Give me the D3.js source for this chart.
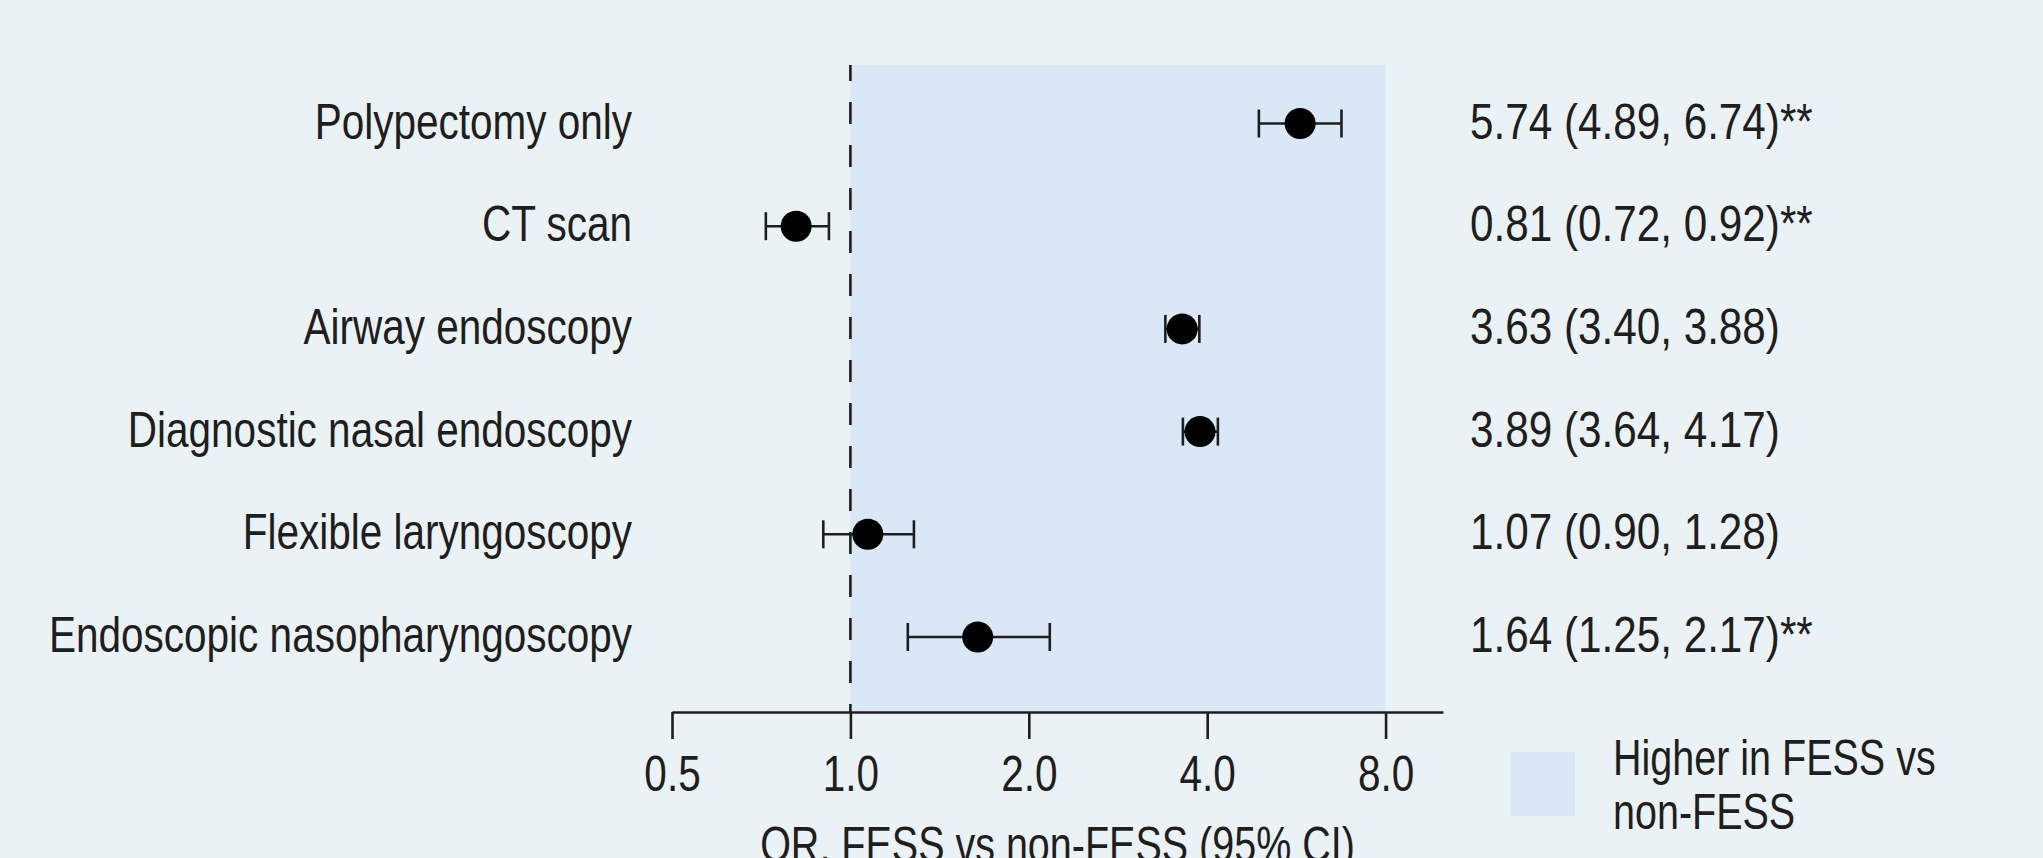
<!DOCTYPE html>
<html>
<head>
<meta charset="utf-8">
<script src="https://cdn.jsdelivr.net/npm/d3@7"></script>
<style>
  html, body { margin: 0; padding: 0; background: #eaf2f5; }
  svg { display: block; }
  text { font-family: "Liberation Sans", Arial, sans-serif; fill: #1e1e1e; }
</style>
</head>
<body>
<div id="chart"></div>
<script>
// forest plot data
var categories = ["Polypectomy only", "CT scan", "Airway endoscopy",
    "Diagnostic nasal endoscopy", "Flexible laryngoscopy", "Endoscopic nasopharyngoscopy"];
var orValues = [5.74, 0.81, 3.63, 3.89, 1.07, 1.64];
var ciLower = [4.89, 0.72, 3.40, 3.64, 0.90, 1.25];
var ciUpper = [6.74, 0.92, 3.88, 4.17, 1.28, 2.17];
var signif = ["**", "**", "", "", "", "**"];
var tickVals = [0.5, 1, 2, 4, 8];
var axisTitle = "OR, FESS vs non-FESS (95% CI)";
var legendLines = ["Higher in FESS vs", "non-FESS"];

const width = 2043, height = 858;
const fontSize = 50;
const narrow = 0.81;      // no condensed font installed, squeeze the glyphs instead
const plotTop = 65, axisY = 712;
const rowTop = 123.5, rowBottom = 637;
const ink = '#1e1e1e';

var data = categories.map(function(c, i) {
    return { name: c, or: orValues[i], lo: ciLower[i], hi: ciUpper[i], sig: signif[i] };
});

function squeeze(tx, ty, s) {
    return 'translate(' + tx + ',' + ty + ') scale(' + (s || narrow) + ',1)';
}

var chart = d3.select('#chart')
    .append('svg')
    .attr('width', width)
    .attr('height', height);

chart.append('rect')
    .attr('width', width).attr('height', height)
    .attr('fill', '#eaf2f5');

var x = d3.scaleLog().base(2)
    .domain([0.5, 10])
    .range([672, 1443]);
var y = d3.scalePoint()
    .domain(categories)
    .range([rowTop, rowBottom]);

// shaded region (OR between 1 and 8)
chart.append('rect')
    .attr('x', x(1))
    .attr('y', plotTop)
    .attr('width', x(8) - x(1))
    .attr('height', axisY - plotTop)
    .attr('fill', '#d9e7f6');

// reference line at OR = 1
chart.append('line')
    .attr('x1', x(1)).attr('x2', x(1))
    .attr('y1', plotTop).attr('y2', axisY)
    .attr('stroke', ink)
    .attr('stroke-width', 2.6)
    .attr('stroke-dasharray', '22,21')
    .attr('stroke-dashoffset', 6);

// x axis
var axis = chart.append('g')
    .attr('transform', 'translate(0,' + axisY + ')')
    .call(d3.axisBottom(x)
        .tickValues(tickVals)
        .tickFormat(d3.format('.1f'))
        .tickSize(27)
        .tickSizeOuter(0)
        .tickPadding(17));
axis.select('.domain').attr('stroke', ink).attr('stroke-width', 2.6);
axis.selectAll('.tick line').attr('stroke', ink).attr('stroke-width', 2.6);
axis.selectAll('.tick text')
    .style('font-size', fontSize + 'px')
    .style('font-family', '"Liberation Sans", Arial, sans-serif')
    .attr('fill', ink)
    .attr('transform', 'scale(' + narrow + ',1)');

chart.append('text')
    .attr('transform', squeeze((x.range()[0] + x.range()[1]) / 2, 862, 0.79))
    .attr('text-anchor', 'middle')
    .style('font-size', fontSize + 'px')
    .text(axisTitle);

var rows = chart.selectAll('.item').data(data)
    .enter().append('g')
    .attr('class', 'item')
    .attr('transform', function(d) { return 'translate(0,' + y(d.name) + ')'; });

// CI whiskers
rows.append('line')
    .attr('x1', function(d) { return x(d.lo); })
    .attr('x2', function(d) { return x(d.hi); })
    .attr('stroke', ink).attr('stroke-width', 2.6);
rows.append('line')
    .attr('x1', function(d) { return x(d.lo); })
    .attr('x2', function(d) { return x(d.lo); })
    .attr('y1', -14).attr('y2', 14)
    .attr('stroke', ink).attr('stroke-width', 2.6);
rows.append('line')
    .attr('x1', function(d) { return x(d.hi); })
    .attr('x2', function(d) { return x(d.hi); })
    .attr('y1', -14).attr('y2', 14)
    .attr('stroke', ink).attr('stroke-width', 2.6);

rows.append('circle')
    .attr('cx', function(d) { return x(d.or); })
    .attr('r', 15.5)
    .attr('fill', '#000');

rows.append('text')
    .attr('transform', squeeze(632, 0, 0.81))
    .attr('dy', '0.3em')
    .attr('text-anchor', 'end')
    .style('font-size', fontSize + 'px')
    .text(function(d) { return d.name; });

rows.append('text')
    .attr('transform', squeeze(1470, 0, 0.845))
    .attr('dy', '0.3em')
    .style('font-size', fontSize + 'px')
    .text(function(d) {
        return d.or.toFixed(2) + ' (' + d.lo.toFixed(2) + ', ' + d.hi.toFixed(2) + ')' + d.sig;
    });

// legend
chart.append('rect')
    .attr('x', 1510).attr('y', 752)
    .attr('width', 65).attr('height', 64)
    .attr('fill', '#d9e7f6');
var leg = chart.append('text')
    .attr('transform', squeeze(1613, 775, 0.79))
    .style('font-size', fontSize + 'px');
leg.selectAll('tspan').data(legendLines)
    .enter().append('tspan')
    .attr('x', 0)
    .attr('dy', function(d, i) { return i === 0 ? 0 : 54; })
    .text(function(d) { return d; });
</script>
</body>
</html>
